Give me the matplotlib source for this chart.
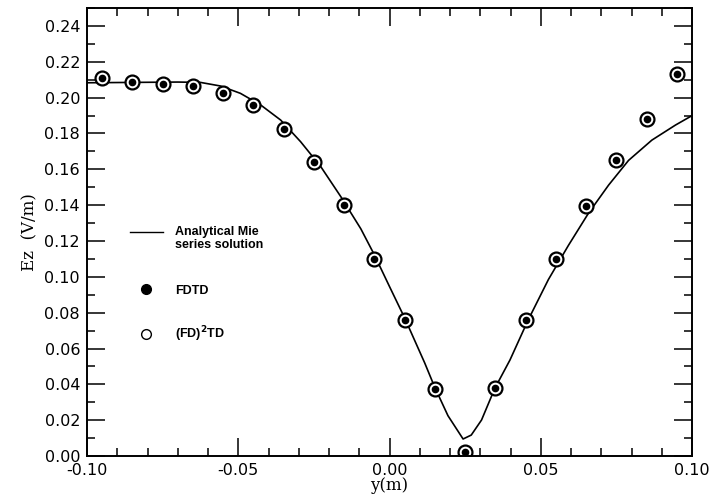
"""
    Ez along y: analytical Mie series vs FDTD and (FD)^2TD
"""

import matplotlib
matplotlib.use('Agg')
import matplotlib.pyplot as plt
from matplotlib.ticker import MultipleLocator, FormatStrFormatter

# analytical Mie series solution
mie_y = [-0.100, -0.085, -0.070, -0.0625, -0.0559, -0.0493, -0.0426, -0.036,
         -0.0294, -0.0227, -0.0161, -0.0095, -0.005, 0.000, 0.005, 0.0116,
         0.0149, 0.0193, 0.0243, 0.0270, 0.0304, 0.0348, 0.0398, 0.0458,
         0.0525, 0.0591, 0.0657, 0.0724, 0.079, 0.0867, 0.0945, 0.100]
mie_ez = [0.2083, 0.2085, 0.2087, 0.2085, 0.2065, 0.2024, 0.1959, 0.1875,
          0.1754, 0.1614, 0.1447, 0.1268, 0.1122, 0.0945, 0.0770, 0.0520,
          0.0385, 0.0225, 0.0095, 0.0117, 0.0201, 0.0378, 0.0536, 0.0759,
          0.0985, 0.1175, 0.1354, 0.1512, 0.1650, 0.1763, 0.1847, 0.1900]

# sample positions
pts_y = [-0.095, -0.085, -0.075, -0.065, -0.055, -0.045, -0.035, -0.025,
         -0.015, -0.005, 0.005, 0.015, 0.025, 0.035, 0.045, 0.055,
         0.065, 0.075, 0.085, 0.095]
fdtd_ez = [0.211, 0.209, 0.2076, 0.2063, 0.2028, 0.1957, 0.1827, 0.164,
           0.140, 0.1097, 0.0757, 0.0376, 0.0022, 0.0381, 0.0757, 0.1097,
           0.1397, 0.165, 0.188, 0.213]
fd2td_ez = [0.211, 0.209, 0.2076, 0.2063, 0.2028, 0.1957, 0.1827, 0.164,
            0.140, 0.1097, 0.0757, 0.0376, 0.0022, 0.0381, 0.0757, 0.1097,
            0.1397, 0.165, 0.188, 0.213]

fig = plt.figure(figsize=(7.15, 5.03), dpi=100)
ax = fig.add_axes([0.1217, 0.0934, 0.8463, 0.8906])

ax.plot(mie_y, mie_ez, color='black', lw=1.2)
ax.plot(pts_y, fd2td_ez, 'o', ms=10, mfc='white', mec='black', mew=1.6)
ax.plot(pts_y, fdtd_ez, 'o', ms=4.5, mfc='black', mec='black')

ax.set_xlim(-0.10, 0.10)
ax.set_ylim(0.0, 0.25)

ax.xaxis.set_major_locator(MultipleLocator(0.05))
ax.xaxis.set_minor_locator(MultipleLocator(0.01))
ax.yaxis.set_minor_locator(MultipleLocator(0.01))
ax.xaxis.set_major_formatter(FormatStrFormatter('%.2f'))
ax.yaxis.set_major_formatter(FormatStrFormatter('%.2f'))
ax.set_yticks([0.00, 0.02, 0.04, 0.06, 0.08, 0.10, 0.12, 0.14, 0.16, 0.18,
               0.20, 0.22, 0.24])

ax.tick_params(which='both', direction='in', top=True, right=True, width=1.1)
ax.tick_params(which='major', length=13)
ax.tick_params(which='minor', length=6)
ax.tick_params(axis='both', labelsize=11.5, pad=5)
for sp in ax.spines.values():
    sp.set_linewidth(1.4)

ax.set_xlabel('y(m)', family='DejaVu Serif', fontsize=12, labelpad=-1)
ax.set_ylabel('Ez  (V/m)', family='DejaVu Serif', fontsize=12, labelpad=4)

# hand-drawn style legend inside the axes
leg_font = dict(family='Liberation Sans', fontsize=9, fontweight='bold',
                va='center', ha='left', transform=ax.transAxes)
ax.plot([0.071, 0.126], [0.500, 0.500], color='black', lw=1.0,
        transform=ax.transAxes)
ax.text(0.146, 0.486, 'Analytical Mie\nseries solution', linespacing=1.1,
        **leg_font)
ax.plot([0.098], [0.373], 'o', ms=7, color='black', transform=ax.transAxes)
ax.text(0.146, 0.368, 'FDTD', **leg_font)
ax.plot([0.098], [0.272], 'o', ms=7, mfc='white', mec='black', mew=1.0,
        transform=ax.transAxes)
ax.text(0.146, 0.272, r'(FD)$^\mathbf{2}$TD', **leg_font)

fig.savefig('out.png', dpi=100)
